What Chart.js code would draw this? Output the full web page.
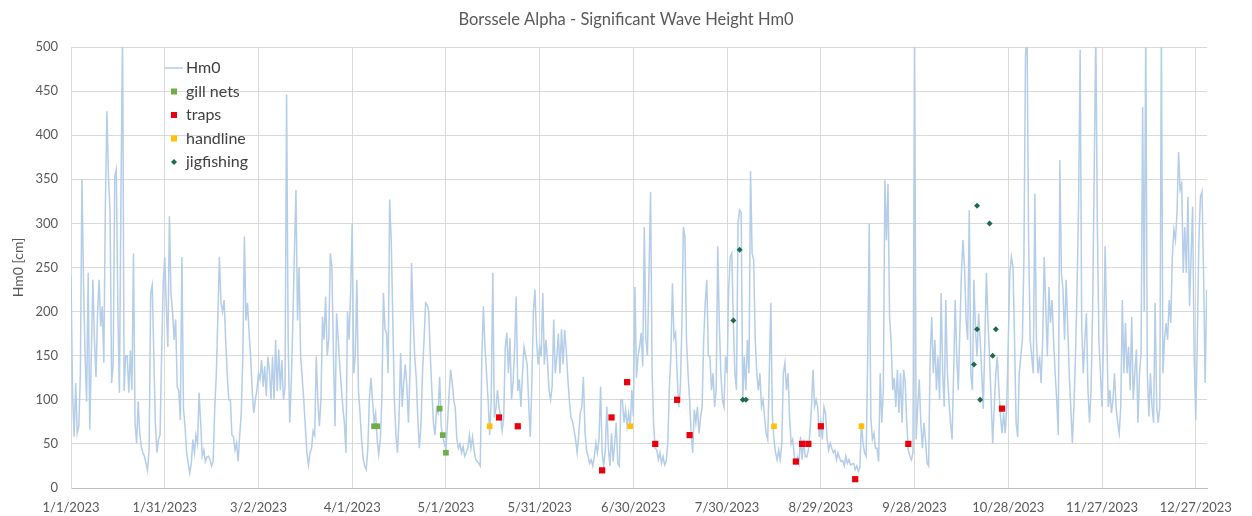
<!DOCTYPE html>
<html>
<head>
<meta charset="utf-8">
<script src="https://cdn.jsdelivr.net/npm/chart.js@4.4.1/dist/chart.umd.min.js"></script>
<style>
html,body{margin:0;padding:0;background:#ffffff;}
#wrap{width:1252px;height:516px;position:relative;}
</style>
</head>
<body>
<div id="wrap"><canvas id="c" width="1252" height="516"></canvas></div>
<script>
// ---------- text ----------
const chartTitle = 'Borssele Alpha - Significant Wave Height Hm0';
const yAxisTitle = 'Hm0 [cm]';
const seriesNames = ['Hm0', 'gill nets', 'traps', 'handline', 'jigfishing'];

// ---------- x axis (days since 1/1/2023) ----------
const xTickDays   = [0, 30, 60, 90, 120, 150, 180, 210, 240, 270, 300, 330, 360];
const xTickLabels = ['1/1/2023', '1/31/2023', '3/2/2023', '4/1/2023', '5/1/2023', '5/31/2023',
                     '6/30/2023', '7/30/2023', '8/29/2023', '9/28/2023', '10/28/2023', '11/27/2023', '12/27/2023'];
const xMaxDay = 363.6;
const yMax = 500;
const yStep = 50;

// ---------- Hm0 series, sampled every 12 h; each part starts at the given day ----------
const hm0StepDays = 0.5;
const hm0PartStart = [0, 30.5, 63.5, 97, 130.5, 164, 197.5, 231, 264.5, 298, 331.5];
const hm0Part1 = [240,108,58,119,62,70,130,350,236,150, 98,244,66,150,236,168,126,198,236,183,
  206,142,320,427,353,312,119,140,353,361, 200,108,338,520,110,150,150,108,156,111,
  266,74,51,98,62,47,40,36,28,20, 43,221,230,150,74,40,55,60,150,230, 262];
const hm0Part2 = [206,160,308,221,200,168,191,115,110,77, 262,90,70,40,28,17,28,55,40,60,
  50,108,74,36,43,30,35,36,32,25, 30,90,128,194,262,210,200,213,168,130,
  100,100,60,58,43,51,30,60,85,150, 285,190,210,176,149,111,85,100,111,130,
  123,145,115,138,104,149];
const hm0Part3 = [134,100,149,100,168,110,157,111,145,100, 115,446,168,74,120,187,266,338,190,250,
  149,125,100,70,40,26,40,45,65,60, 149,100,70,100,194,168,217,150,168,266,
  251,150,70,198,170,140,115,92,74,40, 200,168,221,300,130,150,236,111,85,55,
  34,25,21,45,100,125,100];
const hm0Part4 = [74,85,55,38,55,100,221,180,176,130, 327,280,190,100,60,40,80,153,92,120,
  140,115,74,130,255,195,150,125,80,45, 70,130,168,210,208,200,150,111,74,60,
  90,85,126,70,58,51,43,74,105,134, 120,100,90,55,45,50,40,47,36,40,
  45,60,45,58,43,33,30];
const hm0Part5 = [28,25,150,206,160,130,100,60,100,244, 80,90,111,92,81,65,80,160,176,130,
  170,100,120,160,217,110,123,92,130,160, 150,140,95,58,120,200,225,168,140,160,
  149,221,140,168,145,111,100,115,191,130, 149,175,130,180,140,179,157,125,100,80,
  76,66,55,40,60,85,92];
const hm0Part6 = [126,65,43,36,28,32,25,36,51,40, 55,115,40,25,43,92,45,25,62,30,
  50,74,28,25,100,100,74,89,70,85, 70,111,81,228,125,150,160,176,138,296,
  168,150,244,336,130,70,45,43,32,40, 28,36,26,30,50,111,150,232,170,176,
  130,92,111,180,296,285,168];
const hm0Part7 = [130,100,60,40,89,74,92,62,80,92, 168,210,236,150,149,111,130,92,111,274,
  187,130,100,92,149,130,225,262,266,187, 130,111,300,315,312,100,149,111,168,130,
  359,266,259,168,130,111,130,92,100,80, 62,55,130,210,80,55,40,32,43,32,
  50,130,142,111,130,80,50];
const hm0Part8 = [55,36,28,35,28,58,32,55,36,35, 43,62,92,134,92,100,92,58,74,55,
  92,85,55,43,51,45,40,43,32,40, 34,30,31,25,36,28,32,26,27,28,
  21,25,19,23,74,51,40,36,150,300, 80,55,62,45,45,30,130,74,111,349,
  281,345,194,165,111,125,92];
const hm0Part9 = [134,85,130,74,134,120,74,43,36,32, 40,520,55,92,123,74,45,74,55,28,
  25,150,194,130,168,111,149,100,221,130, 92,213,130,100,74,55,130,213,149,111,
  180,244,281,250,191,168,315,130,111,236, 179,149,198,168,130,90,168,244,187,149,
  100,51,92,130,149,111,81];
const hm0Part10 = [62,85,62,92,168,244,262,251,168,74, 58,130,149,168,259,489,520,281,168,149,
  130,334,168,130,149,119,168,262,206,149, 228,187,213,168,130,100,60,372,244,225,
  168,236,187,130,92,51,92,149,225,323, 497,183,130,168,198,111,74,111,206,357,
  520,300,168,130,92,168,274];
const hm0Part11 = [180,92,111,85,100,130,92,74,62,92, 213,130,187,130,160,111,194,100,130,157,
  74,130,153,432,200,520,130,81,130,92, 74,210,92,74,92,520,130,168,187,168,
  213,187,262,293,281,312,381,338,345,244, 296,244,330,206,262,319,149,77,168,281,
  330,336,244,119,225];

// ---------- fishing observations (day since 1/1/2023, Hm0 cm) ----------
const gillNetsDay = [97, 98, 118, 119, 120];
const gillNetsHm0 = [70, 70, 90, 60, 40];
const trapsDay = [137, 143, 170, 173, 178, 187, 194, 198, 232, 234, 236, 240, 251, 268, 298];
const trapsHm0 = [80, 70, 20, 80, 120, 50, 100, 60, 30, 50, 50, 70, 10, 50, 90];
const handlineDay = [134, 179, 225, 253];
const handlineHm0 = [70, 70, 70, 70];
const jigDay = [212, 214, 215, 216, 289, 290, 290, 291, 294, 295, 296];
const jigHm0 = [190, 270, 100, 100, 140, 320, 180, 100, 300, 150, 180];

// ---------- build ----------
const hm0Parts = [hm0Part1, hm0Part2, hm0Part3, hm0Part4, hm0Part5, hm0Part6,
                  hm0Part7, hm0Part8, hm0Part9, hm0Part10, hm0Part11];
const hm0Points = [];
hm0Parts.forEach((part, p) => part.forEach((v, i) => hm0Points.push({x: hm0PartStart[p] + i * hm0StepDays, y: v})));
const pts = (xs, ys) => xs.map((x, i) => ({x: x, y: ys[i]}));

const FONT = 'Lato';

const insideLegend = {
  id: 'insideLegend',
  afterDatasetsDraw(chart) {
    const ctx = chart.ctx;
    ctx.save();
    ctx.font = '16px ' + FONT;
    ctx.textBaseline = 'middle';
    ctx.textAlign = 'left';
    const markX = 174, textX = 186, y0 = 68, dy = 23.5;
    chart.data.datasets.forEach((ds, i) => {
      const y = y0 + i * dy;
      if (ds.showLine) {
        ctx.strokeStyle = ds.borderColor;
        ctx.lineWidth = 1.5;
        ctx.beginPath();
        ctx.moveTo(markX - 9, y);
        ctx.lineTo(markX + 9, y);
        ctx.stroke();
      } else {
        ctx.fillStyle = ds.backgroundColor;
        if (ds.pointStyle === 'rectRot') {
          const r = 3;
          ctx.beginPath();
          ctx.moveTo(markX, y - r); ctx.lineTo(markX + r, y);
          ctx.lineTo(markX, y + r); ctx.lineTo(markX - r, y);
          ctx.closePath(); ctx.fill();
        } else {
          ctx.fillRect(markX - 3, y - 3, 6, 6);
        }
      }
      ctx.fillStyle = '#404040';
      ctx.fillText(ds.label, textX, y);
    });
    ctx.restore();
  }
};

new Chart(document.getElementById('c'), {
  type: 'scatter',
  data: {
    datasets: [
      {label: seriesNames[0], data: hm0Points, showLine: true, borderColor: '#b4cde8', backgroundColor: '#b4cde8',
       borderWidth: 1.5, pointRadius: 0, order: 1, tension: 0},
      {label: seriesNames[1], data: pts(gillNetsDay, gillNetsHm0), backgroundColor: '#70ad47', borderColor: '#70ad47',
       pointStyle: 'rect', pointRadius: 4, borderWidth: 0, order: 0},
      {label: seriesNames[2], data: pts(trapsDay, trapsHm0), backgroundColor: '#e8000b', borderColor: '#e8000b',
       pointStyle: 'rect', pointRadius: 4.4, borderWidth: 0, order: 0},
      {label: seriesNames[3], data: pts(handlineDay, handlineHm0), backgroundColor: '#ffc000', borderColor: '#ffc000',
       pointStyle: 'rect', pointRadius: 4, borderWidth: 0, order: 0},
      {label: seriesNames[4], data: pts(jigDay, jigHm0), backgroundColor: '#1e6b47', borderColor: '#1e6b47',
       pointStyle: 'rectRot', pointRadius: 3, borderWidth: 0, order: 0}
    ]
  },
  options: {
    responsive: false,
    devicePixelRatio: 1,
    animation: false,
    layout: {padding: {left: 0, right: 0, top: 0, bottom: 0}},
    plugins: {
      legend: {display: false},
      tooltip: {enabled: false},
      title: {display: true, text: chartTitle, color: '#595959',
              font: {family: FONT, size: 16.5, weight: 'normal'}, padding: {top: 10, bottom: 17.2}}
    },
    scales: {
      x: {
        type: 'linear', min: 0, max: xMaxDay,
        afterBuildTicks: (s) => { s.ticks = xTickDays.map(v => ({value: v})); },
        afterFit: (s) => { s.height = 28; },
        grid: {color: '#d9d9d9', drawTicks: false, lineWidth: 1},
        border: {display: true, color: '#bfbfbf'},
        ticks: {autoSkip: false, maxRotation: 0, padding: 12, color: '#595959',
                font: {family: FONT, size: 13},
                callback: (v, i) => xTickLabels[i]}
      },
      y: {
        min: 0, max: yMax,
        afterFit: (s) => { s.width = 71; },
        grid: {color: '#d9d9d9', drawTicks: false, lineWidth: 1},
        border: {display: true, color: '#d9d9d9'},
        ticks: {stepSize: yStep, padding: 13, color: '#595959', font: {family: FONT, size: 13}},
        title: {display: true, text: yAxisTitle, color: '#595959',
                font: {family: FONT, size: 14}, padding: {top: 10, bottom: 0}}
      },
      yRight: {
        position: 'right', min: 0, max: 1, display: true,
        afterFit: (s) => { s.width = 45; },
        grid: {display: false, drawTicks: false},
        border: {display: false},
        ticks: {display: false}
      }
    }
  },
  plugins: [insideLegend]
});
</script>
</body>
</html>
